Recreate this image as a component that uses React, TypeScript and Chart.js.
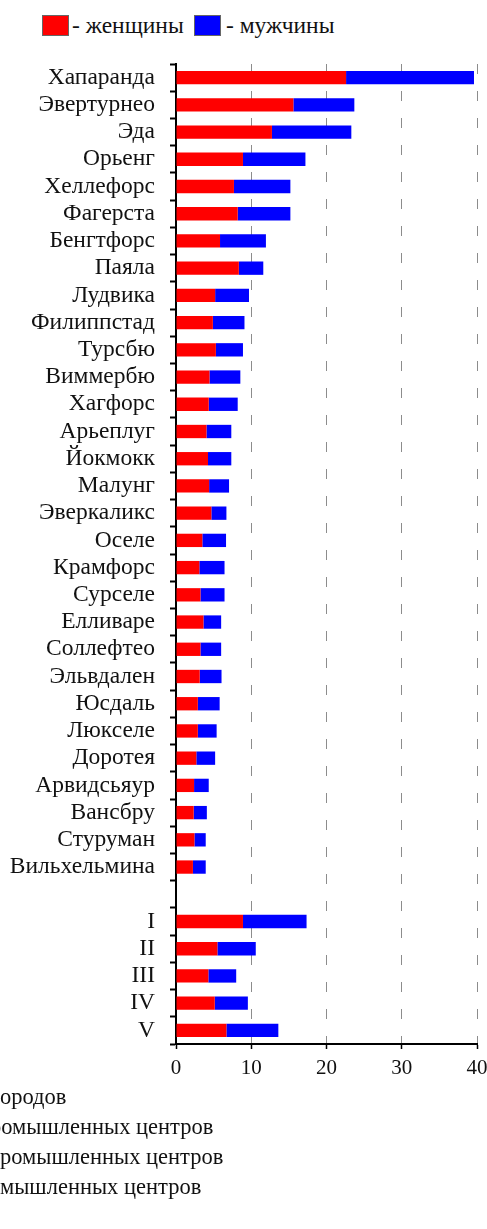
import React, { useEffect, useRef } from "react";
import { Chart, registerables } from "chart.js";

Chart.register(...registerables);

const categories: string[] = [
  "Хапаранда", "Эвертурнео", "Эда", "Орьенг", "Хеллефорс", "Фагерста", "Бенгтфорс", "Паяла",
  "Лудвика", "Филиппстад", "Турсбю", "Виммербю", "Хагфорс", "Арьеплуг", "Йокмокк", "Малунг",
  "Эверкаликс", "Оселе", "Крамфорс", "Сурселе", "Елливаре", "Соллефтео", "Эльвдален", "Юсдаль",
  "Люкселе", "Доротея", "Арвидсьяур", "Вансбру", "Стуруман", "Вильхельмина",
  "", "I", "II", "III", "IV", "V",
];

const women: (number | null)[] = [
  22.6, 15.6, 12.75, 8.9, 7.7, 8.2, 5.85, 8.35,
  5.2, 4.9, 5.3, 4.45, 4.35, 4.05, 4.25, 4.4,
  4.7, 3.5, 3.1, 3.25, 3.65, 3.25, 3.15, 2.9,
  2.9, 2.7, 2.4, 2.35, 2.45, 2.25,
  null, 8.9, 5.5, 4.3, 5.15, 6.7,
];

const men: (number | null)[] = [
  17.0, 8.1, 10.55, 8.3, 7.5, 7.0, 6.1, 3.25,
  4.5, 4.2, 3.6, 4.1, 3.85, 3.3, 3.1, 2.65,
  2.0, 3.15, 3.35, 3.2, 2.35, 2.75, 2.9, 2.9,
  2.5, 2.5, 1.95, 1.75, 1.5, 1.7,
  null, 8.45, 5.1, 3.7, 4.4, 6.9,
];

const seriesNames = ["- женщины", "- мужчины"];
const seriesColors = ["#ff0000", "#0000ff"];
const xTicks = [0, 10, 20, 30, 40];
const footnotes = ["ородов", "ромышленных центров", "ромышленных центров", "мышленных центров"];
const footnoteLeft = [0, -10, 0, 0];

const FONT = "'Liberation Serif', 'Times New Roman', serif";

export default function App() {
  const ref = useRef<HTMLCanvasElement | null>(null);

  useEffect(() => {
    if (!ref.current) return;
    const chart = new Chart(ref.current, {
      type: "bar",
      data: {
        labels: categories,
        datasets: [
          { label: seriesNames[0], data: women, backgroundColor: seriesColors[0], borderWidth: 0 },
          { label: seriesNames[1], data: men, backgroundColor: seriesColors[1], borderWidth: 0 },
        ],
      },
      options: {
        indexAxis: "y",
        animation: false,
        responsive: false,
        devicePixelRatio: 1,
        layout: { padding: { top: 64, right: 10, left: 0, bottom: 0 } },
        plugins: { legend: { display: false }, tooltip: { enabled: false } },
        datasets: { bar: { barPercentage: 0.49, categoryPercentage: 1 } },
        scales: {
          x: {
            type: "linear",
            stacked: true,
            min: 0,
            max: 40,
            afterBuildTicks: (s: any) => {
              s.ticks = xTicks.map((v) => ({ value: v }));
            },
            ticks: { color: "#111", font: { family: FONT, size: 21 }, padding: 7 },
            grid: {
              color: "#8c8c8c",
              lineWidth: 1,
              drawTicks: true,
              tickLength: 5,
              tickColor: "#000",
              tickWidth: 1.5,
            },
            border: { display: true, color: "#000", width: 2, dash: [10, 17] },
            afterFit: (s: any) => {
              s.height = 41;
              s.paddingLeft = 0;
              s.paddingRight = 0;
            },
          },
          y: {
            type: "category",
            stacked: true,
            offset: true,
            ticks: { color: "#111", font: { family: FONT, size: 23.5 }, padding: 15, autoSkip: false },
            grid: {
              display: true,
              drawOnChartArea: false,
              drawTicks: true,
              tickLength: 6,
              tickColor: "#000",
              tickWidth: 2,
              offset: true,
            },
            border: { display: true, color: "#000", width: 2 },
            afterFit: (s: any) => {
              s.width = 176;
              s.paddingTop = 0;
              s.paddingBottom = 0;
            },
          },
        },
      } as any,
    });
    return () => chart.destroy();
  }, []);

  const legendText: React.CSSProperties = {
    position: "absolute",
    top: 10,
    fontFamily: FONT,
    fontSize: 23.5,
    lineHeight: "30px",
    color: "#111",
    whiteSpace: "nowrap",
  };
  const box = (left: number, color: string): React.CSSProperties => ({
    position: "absolute",
    left,
    top: 15,
    width: 25,
    height: 19,
    background: color,
    border: "1px solid #666",
  });

  return (
    <div style={{ position: "absolute", left: 0, top: 0, width: 487, height: 1229, overflow: "hidden", background: "#fff" }}>
      <div style={box(42, seriesColors[0])} />
      <div style={{ ...legendText, left: 72 }}>{seriesNames[0]}</div>
      <div style={box(194, seriesColors[1])} />
      <div style={{ ...legendText, left: 226 }}>{seriesNames[1]}</div>
      <canvas
        ref={ref}
        width={487}
        height={1085}
        style={{ position: "absolute", left: 0, top: 0, width: 487, height: 1085 }}
      />
      <div style={{ position: "absolute", left: 0, top: 1082, width: 487 }}>
        {footnotes.map((t, i) => (
          <div
            key={i}
            style={{
              position: "relative",
              left: footnoteLeft[i],
              fontFamily: FONT,
              fontSize: 22.5,
              lineHeight: "30px",
              color: "#111",
              whiteSpace: "nowrap",
            }}
          >
            {t}
          </div>
        ))}
      </div>
    </div>
  );
}
